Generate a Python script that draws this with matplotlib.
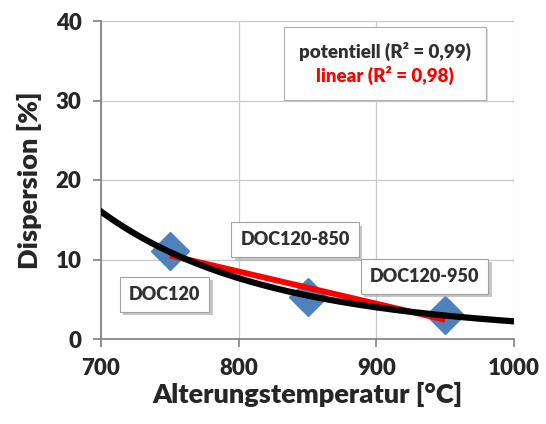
import numpy as np
import matplotlib.pyplot as plt
import matplotlib.patheffects as pe
from matplotlib.lines import Line2D

# Daten
temperatur = [750, 850, 950]
dispersion = [11.1, 5.3, 3.0]
namen = ["DOC120", "DOC120-850", "DOC120-950"]
namen_pos = [(746, 5.6), (841, 12.5), (935, 7.9)]
legende = ["potentiell (R² = 0,99)", "linear (R² = 0,98)"]

plt.rcParams['font.family'] = ['Lato', 'DejaVu Sans']

fig = plt.figure(figsize=(5.46, 4.24), dpi=100)
ax = fig.add_axes([101/546, 1-339/424, 413/546, 318/424])

# Trendlinien (potentiell und linear)
b, ln_a = np.polyfit(np.log(temperatur), np.log(dispersion), 1)
xp = np.linspace(700, 1000, 200)
m, c = np.polyfit(temperatur, dispersion, 1)
xl = np.array([750, 950])

ax.plot(temperatur, dispersion, 'D', color='#4f81bd', markersize=19, zorder=2)
ax.plot(xl, m*xl + c, color='red', lw=4.2, zorder=3, solid_capstyle='butt')
ax.plot(xp, np.exp(ln_a)*xp**b, color='black', lw=4.5, zorder=4)

schatten = [pe.SimplePatchShadow(offset=(2.5, -2.5), shadow_rgbFace='#b0b0b0', alpha=0.7), pe.Normal()]
for n, (x, y) in zip(namen, namen_pos):
    t = ax.text(x, y, n, ha='center', va='center', fontsize=13, fontweight='heavy', color='#303030',
                bbox=dict(boxstyle='square,pad=0.5', fc='white', ec='#a0a0a0', lw=0.8), zorder=6)
    t.get_bbox_patch().set_path_effects(schatten)

# Legende ohne Linien, nur farbiger Text
griffe = [Line2D([], [], lw=0) for _ in legende]
leg = ax.legend(griffe, legende, loc='upper right', bbox_to_anchor=(486/546, 1-27/424),
                bbox_transform=fig.transFigure, handlelength=0, handletextpad=0,
                labelcolor=['#303030', 'red'], prop={'size': 13.5, 'weight': 'heavy'},
                fancybox=False, shadow=False, framealpha=1, edgecolor='#b0b0b0',
                borderpad=0.8, labelspacing=0.25, borderaxespad=0)
leg.get_frame().set_linewidth(0.8)
leg.get_frame().set_path_effects([pe.SimplePatchShadow(offset=(1.5, -1.5), shadow_rgbFace='#c8c8c8', alpha=0.6), pe.Normal()])
# Eintraege zentrieren
for spalte in leg._legend_handle_box.get_children():
    spalte.align = 'center'
leg.set_zorder(7)

ax.set_xlim(700, 1000)
ax.set_ylim(0, 40)
ax.set_xticks([700, 800, 900, 1000])
ax.set_yticks([0, 10, 20, 30, 40])
ax.grid(True, color='#c8c8c8', lw=0.9)
ax.set_axisbelow(True)
for s in ['top', 'right']:
    ax.spines[s].set_visible(False)
for s in ['left', 'bottom']:
    ax.spines[s].set_color('#7f7f7f')
    ax.spines[s].set_linewidth(1.2)
ax.tick_params(length=6, width=1.2, color='#7f7f7f', labelsize=16, labelcolor='#262626', pad=8)
plt.setp(ax.get_xticklabels() + ax.get_yticklabels(), fontweight='heavy')
ax.set_xlabel("Alterungstemperatur [°C]", fontsize=19.5, fontweight='heavy', color='#262626', labelpad=2)
ax.set_ylabel("Dispersion [%]", fontsize=19.5, fontweight='heavy', color='#262626', labelpad=10)

fig.savefig("out.png", dpi=100)
